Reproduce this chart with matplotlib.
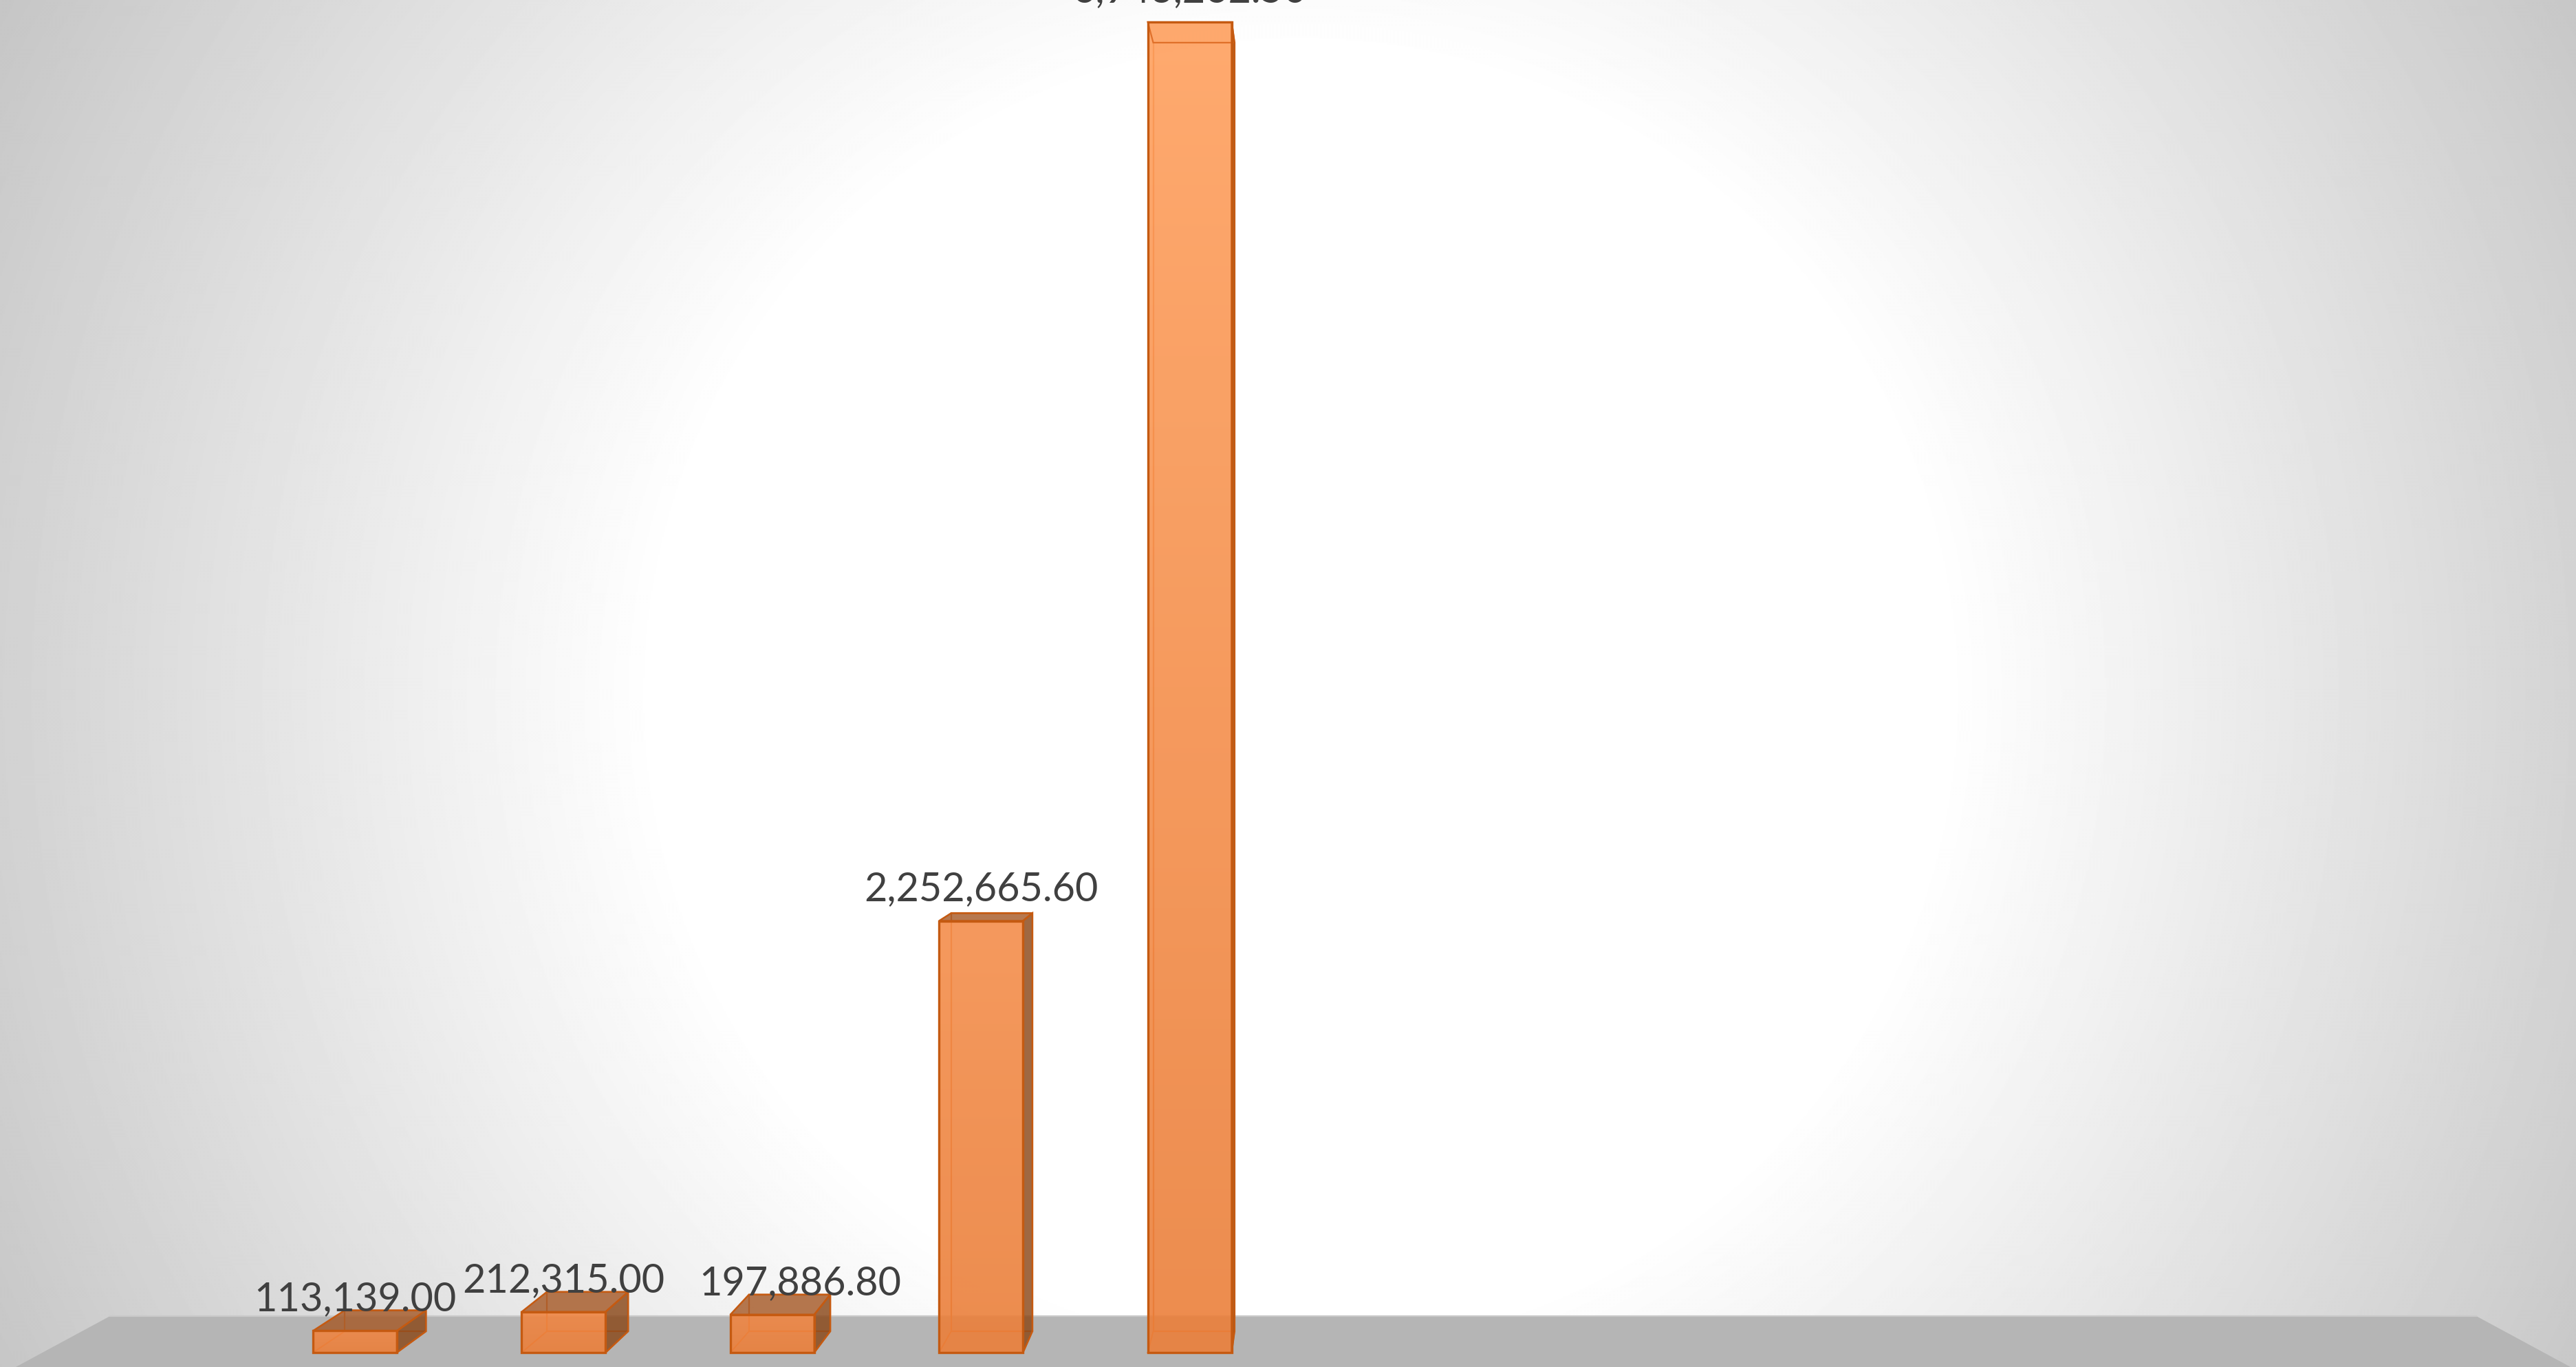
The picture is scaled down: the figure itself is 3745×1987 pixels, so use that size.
import numpy as np
import matplotlib
matplotlib.use("Agg")
import matplotlib.pyplot as plt
from matplotlib.patches import Polygon
from matplotlib.colors import to_rgb

W, H = 3745, 1987
DPI = 100

# ---- data ----
positions = [0, 1, 2, 3, 4]
values = [113139.00, 212315.00, 197886.80, 2252665.60, 6943262.50]
labels = ["113,139.00", "212,315.00", "197,886.80", "2,252,665.60", "6,943,262.50"]
label_dx_pt = [0, 0, 29, 0, 0]

# ---- styling ----
EDGE = "#C55A11"
INNER = "#E0702A"
SIDE = "#8A4718"
TOP = "#A65A28"
TEXT = "#404040"
FLOOR = "#B5B5B5"
FONT = ["Lato", "DejaVu Sans"]

fig = plt.figure(figsize=(W / DPI, H / DPI), dpi=DPI)

# background radial gradient
bg = fig.add_axes([0, 0, 1, 1], zorder=0)
yy, xx = np.mgrid[0:H:2, 0:W:2]
r = np.hypot(xx - 1890, yy - 1010)
grey = np.interp(r, [0, 935, 1300, 1890, 2150], [255, 255, 238, 210, 197]) / 255
bg.imshow(grey, cmap="gray", vmin=0, vmax=1, extent=[0, W, H, 0], aspect="auto",
          interpolation="bilinear")
bg.set_xlim(0, W)
bg.set_ylim(H, 0)
bg.axis("off")
# floor
bg.add_patch(Polygon([(160, 1913), (3600, 1913), (3737, 1987), (23, 1987)],
                     closed=True, fc=FLOOR, ec="none"))
bg.plot([160, 3600], [1913, 1913], color="#C9C9C9", lw=1.6)

# data axes spanning the whole figure
ax = fig.add_axes([0, 0, 1, 1], zorder=1)
ax.patch.set_alpha(0)
ax.axis("off")
x0_px, step_px = 516.0, 303.4
base_px = 1966.0
px_per_val = 1934.0 / values[-1]
ax.set_xlim(-x0_px / step_px, (W - x0_px) / step_px)
ax.set_ylim(-(H - base_px) / px_per_val, base_px / px_per_val)

bar_w = 122.0 / step_px
depth = 0.9685
vp_x = (1922 - x0_px) / step_px
vp_y = (base_px - 984) / px_per_val


def back(x, y):
    return vp_x + depth * (x - vp_x), vp_y + depth * (y - vp_y)


ramp_n = 256
for x, v, lab, dx in zip(positions, values, labels, label_dx_pt):
    xl, xr = x - bar_w / 2, x + bar_w / 2
    fbl, fbr, ftr, ftl = (xl, 0), (xr, 0), (xr, v), (xl, v)
    bbl, bbr, btr, btl = back(*fbl), back(*fbr), back(*ftr), back(*ftl)

    # rear edges and floor of the box, seen through the front
    ax.add_patch(Polygon([bbl, bbr, btr, btl], closed=True, fc="none", ec=INNER, lw=1.6, zorder=2))
    ax.add_patch(Polygon([fbl, fbr, bbr, bbl], closed=True, fc="none", ec=INNER, lw=1.4, zorder=2))

    # front face: vertical gradient clipped to a bar
    frac = v / values[-1]
    top_c = np.array(to_rgb("#EF8542")) * (1 - frac) + np.array(to_rgb("#FFA05E")) * frac
    bot_c = np.array(to_rgb("#EB7F3A"))
    t = np.linspace(0, 1, ramp_n)[:, None, None]
    img = bot_c[None, None, :] * (1 - t) + top_c[None, None, :] * t
    rgba = np.dstack([img, np.full((ramp_n, 1), 0.9)])
    bars = ax.bar([x], [v], width=bar_w, color="none", edgecolor=EDGE, linewidth=2.4, zorder=5)
    im = ax.imshow(rgba, origin="lower", extent=[xl, xr, 0, v], aspect="auto", zorder=3,
                   interpolation="bilinear")
    im.set_clip_path(bars[0])

    # right side
    ax.add_patch(Polygon([fbr, bbr, btr, ftr], closed=True, fc=SIDE, alpha=0.82, ec="none", zorder=3))
    ax.add_patch(Polygon([fbr, bbr, btr, ftr], closed=True, fc="none", ec=EDGE, lw=1.8, zorder=5))
    # top (or underside, for the bar that rises above eye level)
    if v < vp_y:
        ax.add_patch(Polygon([ftl, ftr, btr, btl], closed=True, fc=TOP, alpha=0.82, ec="none", zorder=3))
        ax.add_patch(Polygon([ftl, ftr, btr, btl], closed=True, fc="none", ec=EDGE, lw=1.8, zorder=5))
    else:
        ax.add_patch(Polygon([ftl, ftr, btr, btl], closed=True, fc="none", ec=INNER, lw=1.6, zorder=4))
    ax.annotate(lab, xy=(x, v), xytext=(dx, 21.0), textcoords="offset points",
                ha="center", va="baseline", fontsize=41.5, color=TEXT, family=FONT,
                zorder=6, annotation_clip=False)

ax.set_xlim(-x0_px / step_px, (W - x0_px) / step_px)
ax.set_ylim(-(H - base_px) / px_per_val, base_px / px_per_val)
ax.set_aspect("auto")
fig.savefig("out.png", dpi=DPI)
